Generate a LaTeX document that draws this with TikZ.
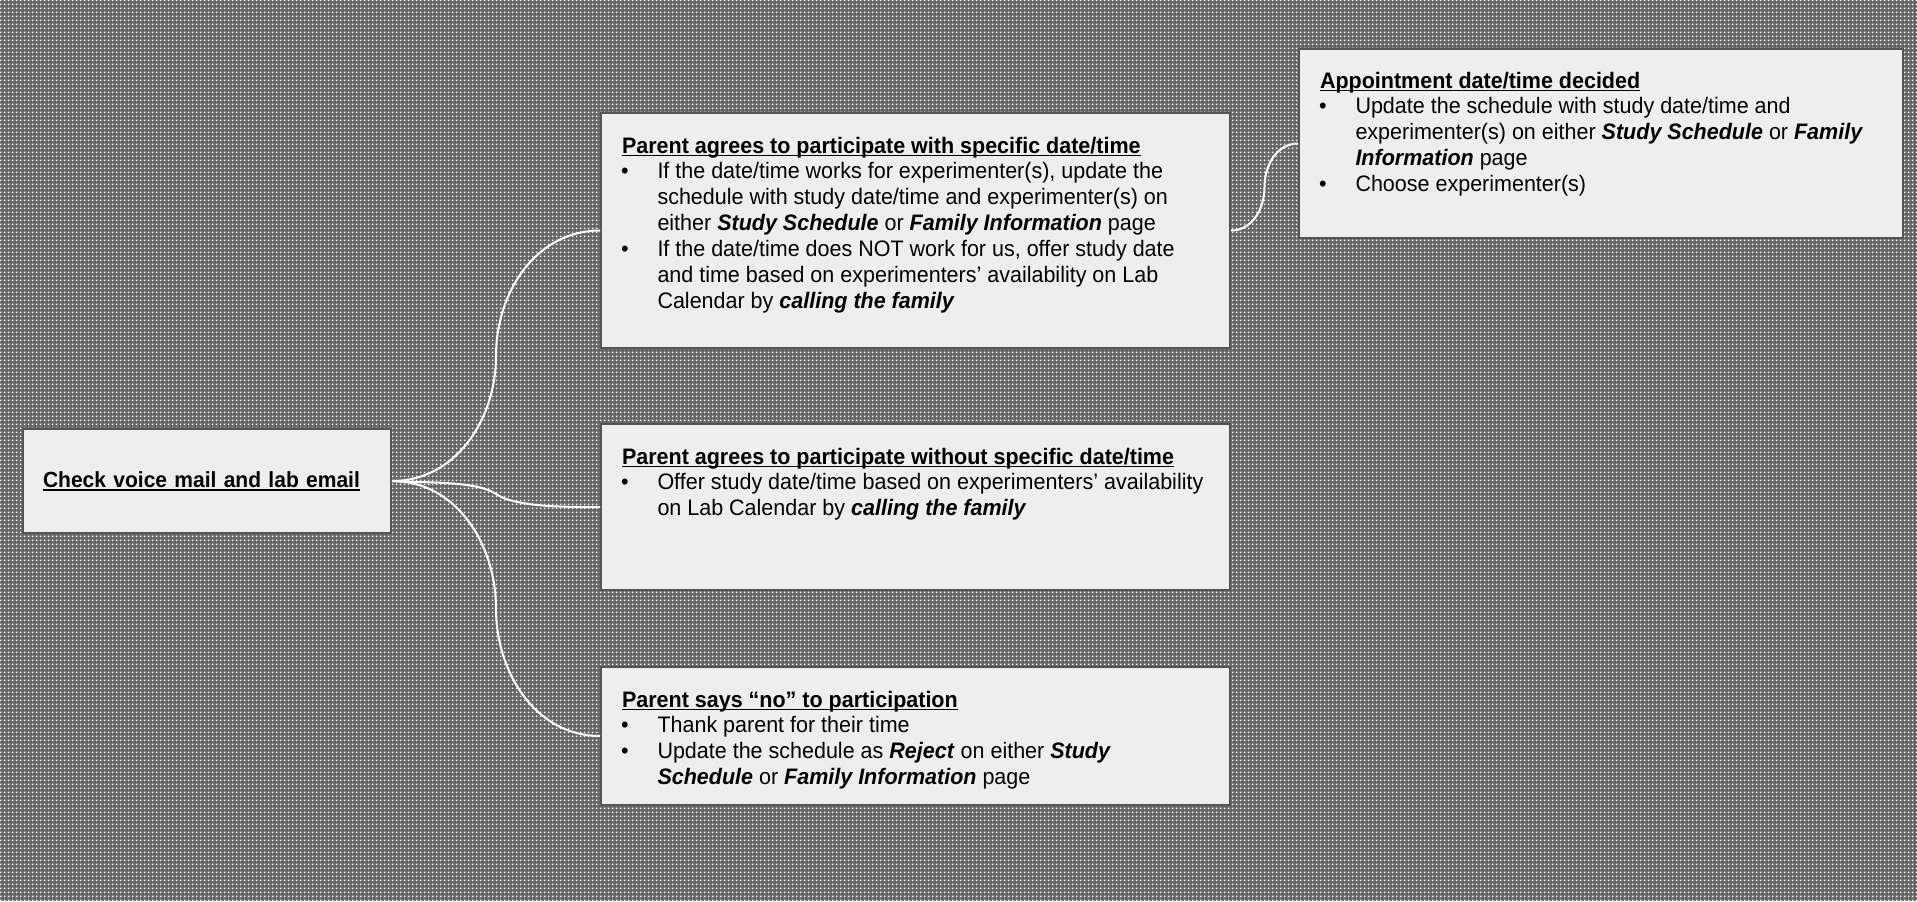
\documentclass[tikz,border=0pt]{standalone}
\usepackage{fontspec}
\setmainfont{Liberation Sans}[FakeStretch=0.96]
\usetikzlibrary{calc,patterns}

\definecolor{bgdark}{HTML}{666666}
\definecolor{boxfill}{HTML}{EEEEEE}
\definecolor{boxline}{HTML}{555555}

% woven background texture
\pgfdeclarepatternformonly{weave}{\pgfqpoint{0pt}{0pt}}{\pgfqpoint{2pt}{2pt}}{\pgfqpoint{2pt}{2pt}}{%
  \pgfpathrectangle{\pgfqpoint{0.5pt}{0.5pt}}{\pgfqpoint{1pt}{1pt}}\pgfusepath{fill}}

\tikzset{
  card/.style={draw=boxline, fill=boxfill, line width=1pt, inner xsep=10.5pt, inner ysep=0pt,
    anchor=north west, font=\fontsize{11.2}{12.95}\selectfont},
  link/.style={draw=white, line width=1pt},
}

\newsavebox{\ulbox}
\newcommand{\uln}[1]{\sbox{\ulbox}{#1}\rlap{\rule[-1.6pt]{\wd\ulbox}{0.8pt}}\usebox{\ulbox}}
\newcommand{\hd}[1]{\rule{0pt}{20pt}\uln{\textbf{#1}}}
\newcommand{\bl}{\makebox[17.75pt][l]{\hspace*{-0.5pt}\textbullet}}
\newcommand{\cl}{\hspace*{17.75pt}}
\newcommand{\bitxt}[1]{\textbf{\textit{#1}}}

\begin{document}
\begin{tikzpicture}[x=1pt,y=1pt]

    % background
    \useasboundingbox (0,0) rectangle (958.5,-450.5);
    \fill[bgdark] (0,0) rectangle (958.5,-450.5);
    \fill[pattern=weave, pattern color=white] (0,0) rectangle (958.5,-450.5);

    % starting box
    \node[card, text width=164pt, inner xsep=10pt, minimum height=52pt, align=left,
        font=\fontsize{10.95}{12.95}\selectfont] (check) at (11,-214)
        {\raisebox{-1.2pt}{\uln{\textbf{Check voice mail and lab email}}}};

    % the three answers
    \node[card] (specific) at (300,-56) {\parbox[c][117.5pt][t]{293.5pt}{%
        \hd{Parent agrees to participate with specific date/time}\\
        \bl If the date/time works for experimenter(s), update the\\
        \cl schedule with study date/time and experimenter(s) on\\
        \cl either \bitxt{Study Schedule} or \bitxt{Family Information} page\\
        \bl If the date/time does NOT work for us, offer study date\\
        \cl and time based on experimenters’ availability on Lab\\
        \cl Calendar by \bitxt{calling the family}}};

    \node[card] (without) at (300,-211.5) {\parbox[c][83pt][t]{293.5pt}{%
        \hd{Parent agrees to participate without specific date/time}\\
        \bl Offer study date/time based on experimenters’ availability\\
        \cl on Lab Calendar by \bitxt{calling the family}}};

    \node[card] (refuse) at (300,-333) {\parbox[c][69pt][t]{293.5pt}{%
        \hd{Parent says “no” to participation}\\
        \bl Thank parent for their time\\
        \bl Update the schedule as \bitxt{Reject} on either \bitxt{Study}\\
        \cl \bitxt{Schedule} or \bitxt{Family Information} page}};

    % final step
    \node[card] (appt) at (649,-24) {\parbox[c][94.5pt][t]{281pt}{%
        \rule{0pt}{19.5pt}\uln{\textbf{Appointment date/time decided}}\\
        \bl Update the schedule with study date/time and\\
        \cl experimenter(s) on either \bitxt{Study Schedule} or \bitxt{Family}\\
        \cl \bitxt{Information} page\\
        \bl Choose experimenter(s)}};

    % connectors
    \foreach \src/\target/\inang/\outang in {check/specific/-90/90, check/refuse/90/-90, specific/appt/-90/90} {
        \coordinate (mid) at ($(\src.east)!0.5!(\target.west)$);
        \draw[link] (\src.east) to[out=0,in=\inang] (mid) to[out=\outang,in=180] (\target.west);
    }
    \coordinate (mid) at ($(check.east)!0.5!(without.west)$);
    \draw[link] (check.east) to[out=-5,in=145,looseness=0.6] (mid)
        to[out=-35,in=180,looseness=0.6] (without.west);

\end{tikzpicture}
\end{document}
